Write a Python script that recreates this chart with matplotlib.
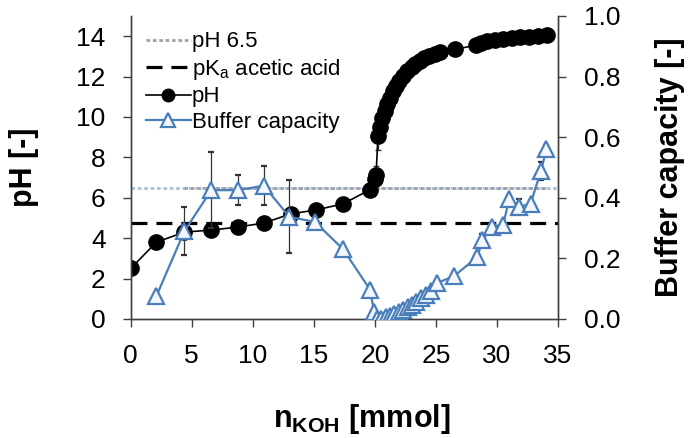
import numpy as np
import matplotlib
matplotlib.use('Agg')
import matplotlib.pyplot as plt
from matplotlib.lines import Line2D

plt.rcParams['font.family'] = ['Liberation Sans', 'DejaVu Sans']
plt.rcParams['mathtext.fontset'] = 'custom'
plt.rcParams['mathtext.rm'] = 'Liberation Sans'
plt.rcParams['mathtext.bf'] = 'Liberation Sans:bold'

# titration curve (pH, left axis)
ph_x = [0, 2.1, 4.4, 6.6, 8.8, 10.9, 13.1, 15.2, 17.4, 19.6,
        20.0, 20.1, 20.25, 20.4, 20.6, 20.8, 21.0, 21.2, 21.5, 21.7,
        22.0, 22.3, 22.6, 23.0, 23.3, 23.7, 24.0, 24.4, 24.9, 25.3,
        26.6, 28.3, 28.7, 29.2, 29.8, 30.5, 31.2, 31.9, 32.6, 33.4, 34.1]
ph_y = [2.5, 3.8, 4.3, 4.4, 4.55, 4.75, 5.2, 5.4, 5.7, 6.4,
        6.95, 7.15, 9.05, 9.5, 9.95, 10.3, 10.65, 10.95, 11.3, 11.55,
        11.8, 12.05, 12.25, 12.45, 12.6, 12.75, 12.9, 13.0, 13.1, 13.2,
        13.35, 13.55, 13.65, 13.75, 13.8, 13.85, 13.9, 13.95, 13.98, 14.0, 14.05]
ph_err = [0, 0, 0, 0, 0, 0, 0, 0, 0, 0,
          0, 0.4, 0.7, 0, 0, 0, 0, 0, 0, 0,
          0, 0, 0, 0, 0, 0, 0, 0, 0, 0,
          0, 0, 0, 0, 0, 0, 0, 0, 0, 0, 0]

# buffer capacity (right axis)
bc_x = [2.1, 4.4, 6.6, 8.8, 10.9, 13.0, 15.1, 17.4, 19.6, 19.95,
        20.2, 20.5, 20.9, 21.2, 21.6, 22.0, 22.3, 22.7, 23.0, 23.4,
        23.8, 24.2, 24.6, 25.05, 26.5, 28.4, 28.8, 29.6, 30.5, 31.0,
        31.8, 32.75, 33.6, 34.05]
bc_y = [0.075, 0.29, 0.425, 0.425, 0.44, 0.337, 0.32, 0.23, 0.097, 0.022,
        0.0, 0.0, 0.005, 0.01, 0.015, 0.022, 0.03, 0.038, 0.047, 0.057,
        0.068, 0.08, 0.093, 0.118, 0.142, 0.205, 0.26, 0.305, 0.31, 0.395,
        0.37, 0.38, 0.488, 0.56]
bc_err = [0, 0.08, 0.125, 0.05, 0.064, 0.12, 0, 0, 0, 0,
          0, 0, 0, 0, 0, 0, 0, 0, 0, 0,
          0, 0, 0, 0, 0, 0, 0.02, 0, 0, 0,
          0.025, 0, 0.03, 0.015]

ph_limit = 6.5
pka_acetic = 4.76

blue = '#4a7ebb'
dot = (0, (1.3, 1.0))
dash = (0, (5, 2.8))

fig = plt.figure(figsize=(6.89, 4.38), dpi=100)
ax = fig.add_axes([0.1897, 0.2717, 0.6202, 0.692])
ax2 = ax.twinx()

ax.plot([0, 35], [ph_limit, ph_limit], color='#a8c0e0', lw=2.0, ls=dot)
ax.plot([4.4, 34.1], [ph_limit, ph_limit], color='#a0a0a0', lw=2.0, ls=dot)
ax.plot([0, 35], [pka_acetic, pka_acetic], color='black', lw=2.3, ls=dash)
ax.errorbar(ph_x, ph_y, yerr=ph_err, color='black', lw=1.2, marker='o', ms=11,
            ecolor='#333333', elinewidth=0.9, capsize=2.5)

ax2.errorbar(bc_x, bc_y, yerr=bc_err, color=blue, lw=1.6, marker='^', ms=12,
             mfc='#f4f8fc', mec=blue, mew=1.6,
             ecolor='#333333', elinewidth=0.9, capsize=2.5, zorder=3)

ax.set_xlim(0, 35)
ax.set_ylim(0, 15)
ax2.set_ylim(0, 1.0)
ax.set_xticks(np.arange(0, 36, 5))
ax.set_yticks(np.arange(0, 15, 2))
ax2.set_yticks(np.arange(0, 1.01, 0.2))
ax2.set_yticklabels(['0.0', '0.2', '0.4', '0.6', '0.8', '1.0'])

for a in (ax, ax2):
    a.spines['top'].set_visible(False)
    for s in a.spines.values():
        s.set_color('#404040')
        s.set_linewidth(1.0)
    a.tick_params(direction='out', length=6, width=1.0, color='#404040',
                  labelsize=19, pad=12)
ax2.tick_params(pad=13)

ax.set_ylabel('pH [-]', fontsize=22, fontweight='bold')
ax.yaxis.set_label_coords(-0.215, 0.5)
ax2.set_ylabel('Buffer capacity [-]', fontsize=22, fontweight='bold')
ax2.yaxis.set_label_coords(1.226, 0.5)
ax.set_xlabel(r'$\mathbf{n_{KOH}}$ [mmol]', fontsize=22, fontweight='bold')
ax.xaxis.set_label_coords(0.54, -0.275)

handles = [
    Line2D([], [], color='#a0a0a0', lw=2.0, ls=dot),
    Line2D([], [], color='black', lw=2.3, ls=dash),
    Line2D([], [], color='black', lw=1.2, marker='o', ms=9),
    Line2D([], [], color=blue, lw=1.6, marker='^', ms=10, mfc='#f4f8fc', mec=blue, mew=1.6),
]
labels = ['pH 6.5', r'pK$_\mathregular{a}$ acetic acid', 'pH', 'Buffer capacity']
ax2.legend(handles, labels, loc='upper left', bbox_to_anchor=(0.0, 1.0), frameon=False,
           fontsize=16, handlelength=2.0, handletextpad=0.05, labelspacing=0.2,
           borderaxespad=0.3, numpoints=1)

fig.savefig('out.png', dpi=100)
